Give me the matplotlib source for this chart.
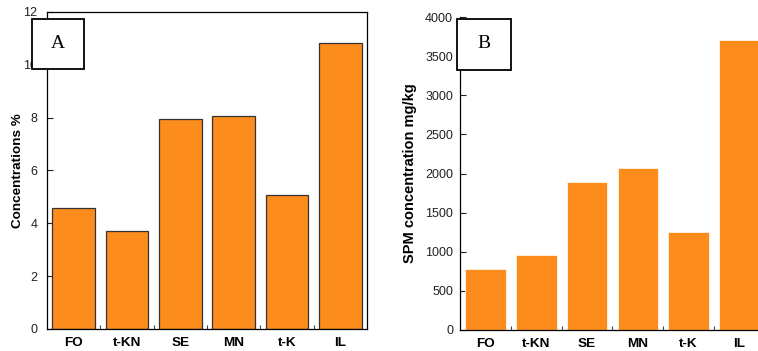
import matplotlib.pyplot as plt
import numpy as np

categories = ['FO', 't-KN', 'SE', 'MN', 't-K', 'IL']
conc_pct = [4.58, 3.71, 7.95, 8.06, 5.08, 10.81]
spm_mgkg = [784, 959, 1893, 2072, 1254, 3714]

orange = '#fc8c1c'
plt.rcParams['font.family'] = ['Liberation Sans', 'DejaVu Sans']

fig = plt.figure(figsize=(7.58, 3.51), dpi=100)
axA = fig.add_axes([0.062, 0.063, 0.422, 0.903])
axB = fig.add_axes([0.607, 0.06, 0.402, 0.891])

x = np.arange(len(categories))


def style(ax, ymax, yticks, pad):
    ax.set_xlim(-0.5, len(categories) - 0.5)
    ax.set_ylim(0, ymax)
    ax.set_yticks(yticks)
    ax.set_xticks(x)
    ax.set_xticklabels(categories, fontsize=9.7, fontweight='bold')
    ax.tick_params(axis='x', length=0, pad=6)
    ax.tick_params(axis='y', direction='in', length=4, width=0.8,
                   labelsize=9, pad=pad, colors='#222222')
    # short separators between categories
    ax.set_xticks(x[:-1] + 0.5, minor=True)
    ax.tick_params(axis='x', which='minor', direction='in', length=3,
                   width=0.8, color='#444444')
    for s in ax.spines.values():
        s.set_linewidth(0.9)


# panel A
axA.bar(x, conc_pct, width=0.8, color=orange, edgecolor='#333333',
        linewidth=0.9, zorder=2)
style(axA, 12, [0, 2, 4, 6, 8, 10, 12], 7)
axA.set_ylabel('Concentrations %', fontsize=9.7, fontweight='bold')
axA.yaxis.set_label_coords(-0.073, 0.5)
boxA = plt.Rectangle((32 / 758, 1 - 69 / 351), 52 / 758, 50 / 351,
                     transform=fig.transFigure, fc='white', ec='black',
                     lw=1.3, zorder=5)
fig.add_artist(boxA)
fig.text(58 / 758, 1 - 44 / 351, 'A', fontsize=14, family='Liberation Serif',
         ha='center', va='center', zorder=6)

# panel B
axB.bar(x, spm_mgkg, width=0.8, color=orange, edgecolor='#fff4e8',
        linewidth=0.6, zorder=2)
style(axB, 4000, np.arange(0, 4001, 500), 5)
axB.spines['top'].set_visible(False)
axB.spines['right'].set_visible(False)
axB.set_ylabel('SPM concentration mg/kg', fontsize=10.5, fontweight='bold')
axB.yaxis.set_label_coords(-0.142, 0.5)
boxB = plt.Rectangle((457 / 758, 1 - 69.5 / 351), 53.5 / 758, 50.5 / 351,
                     transform=fig.transFigure, fc='white', ec='black',
                     lw=1.3, zorder=5)
fig.add_artist(boxB)
fig.text(483.5 / 758, 1 - 44 / 351, 'B', fontsize=14,
         family='Liberation Serif', ha='center', va='center', zorder=6)

fig.savefig('out.png', dpi=100)
